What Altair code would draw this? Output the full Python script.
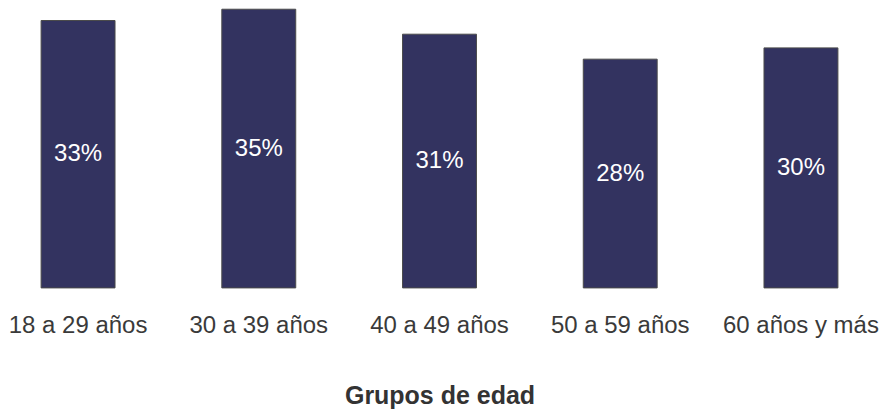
import altair as alt
import pandas as pd

categories = ["18 a 29 años", "30 a 39 años", "40 a 49 años", "50 a 59 años", "60 años y más"]
values = [33.2, 34.6, 31.5, 28.4, 29.8]
labels = ["33%", "35%", "31%", "28%", "30%"]

df = pd.DataFrame({"grupo": categories, "valor": values, "etiqueta": labels})

FONT = "Liberation Sans"

x = alt.X(
    "grupo:N",
    sort=None,
    title="Grupos de edad",
    scale=alt.Scale(paddingInner=0.591, paddingOuter=0.15),
    axis=alt.Axis(
        labelAngle=0,
        domain=False,
        ticks=False,
        tickSize=0,
        grid=False,
        labelFontSize=24,
        labelFont=FONT,
        labelColor="#3a3a3a",
        labelPadding=26,
        titleFontSize=25,
        titleFont=FONT,
        titleFontWeight="bold",
        titleColor="#333333",
        titlePadding=46,
    ),
)

y_scale = alt.Scale(domain=[0, 34.6], nice=False, zero=True)

bars = alt.Chart(df).mark_bar(
    color="#333360", stroke="#4a4a4a", strokeWidth=1
).encode(
    x=x,
    y=alt.Y("valor:Q", scale=y_scale, axis=None),
)

text = alt.Chart(df).transform_calculate(
    mid="datum.valor / 2"
).mark_text(
    color="white", fontSize=24, font=FONT, baseline="middle", align="center"
).encode(
    x=x,
    y=alt.Y("mid:Q", scale=y_scale, axis=None),
    text="etiqueta:N",
)

chart = (
    alt.layer(bars, text)
    .properties(width=852, height=279, padding=0, background="white")
    .configure_view(stroke=None)
)

chart.save("out.html", embed_options={"renderer": "svg", "actions": False})
